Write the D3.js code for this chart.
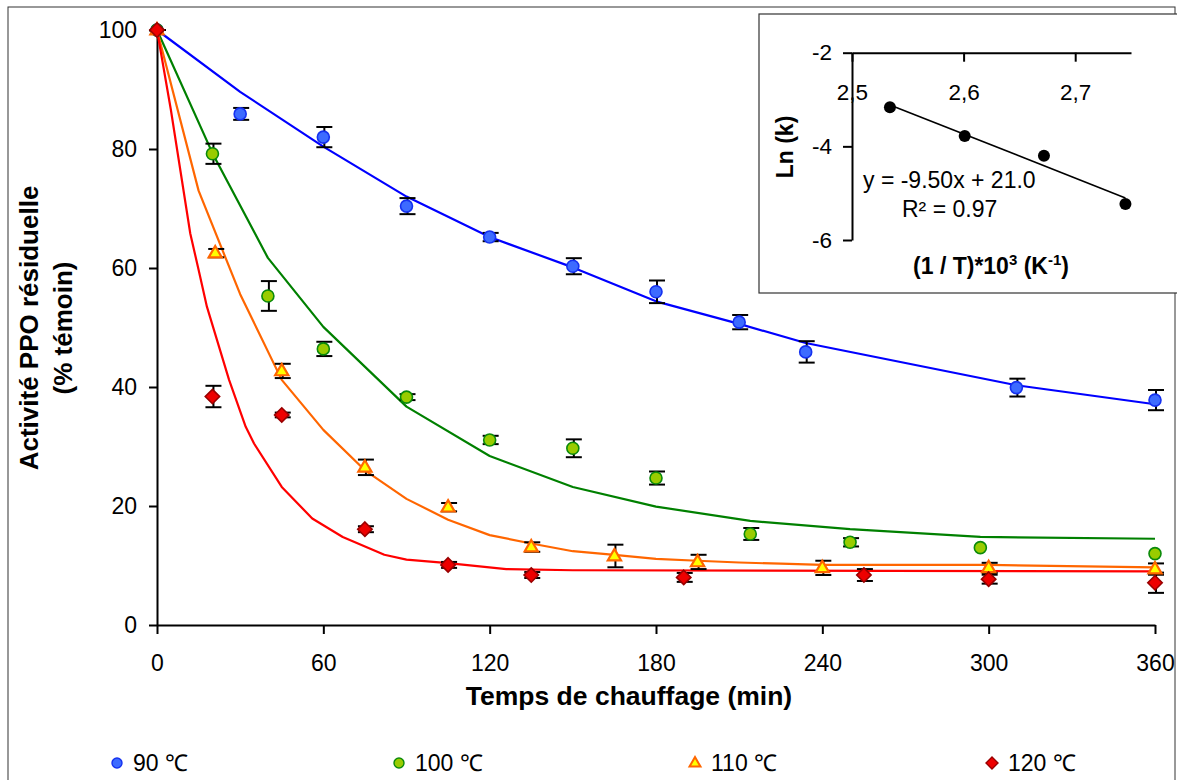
<!DOCTYPE html>
<html><head><meta charset="utf-8">
<script src="https://cdn.jsdelivr.net/npm/d3@7"></script>
<style>
html,body{margin:0;padding:0;background:#fff;}
text{font-family:"Liberation Sans",Arial,sans-serif;fill:#000;}
</style></head>
<body><svg id="c" width="1177" height="780"></svg>
<script>
// ---- main chart data ----
const xTicks = [0,60,120,180,240,300,360];
const yTicks = [0,20,40,60,80,100];
// 90 °C
const t90 = [0,30,60,90,120,150,180,210,234,310,360];
const y90 = [100,85.9,82.0,70.4,65.2,60.3,56.0,50.9,45.9,39.9,37.8];
const e90 = [0,1.0,1.7,1.35,0.7,1.35,1.9,1.2,1.8,1.5,1.7];
const ft90 = [0,30,60,90,120,150,180,210,234,310,360];
const fy90 = [100,89.6,80.4,72.0,65.2,60.1,54.4,50.6,47.4,40.3,37.1];
// 100 °C
const t100 = [0,20,40,60,90,120,150,180,214,250,297,360];
const y100 = [100,79.2,55.3,46.4,38.3,31.1,29.7,24.7,15.3,13.9,13.0,12.0];
const e100 = [0,1.7,2.5,1.2,0.5,0.7,1.5,1.1,1.0,0.7,null,null];
const ft100 = [0,20,40,60,90,120,150,180,214,250,297,360];
const fy100 = [100,79.3,61.7,50.1,36.7,28.4,23.2,19.9,17.5,16.1,14.8,14.5];
// 110 °C
const t110 = [0,21,45,75,105,135,165,195,240,300,360];
const y110 = [100,62.5,42.7,26.5,19.8,13.1,11.6,10.6,9.6,9.6,9.4];
const e110 = [0,0.7,1.2,1.3,0.7,0.8,1.9,1.2,1.2,0.85,0.95];
const ft110 = [0,15,30,45,60,75,90,105,120,135,150,165,180,195,210,225,240,300,360];
const fy110 = [100,73,55.6,41.2,32.8,26.0,21.2,17.7,15.1,13.7,12.4,11.8,11.1,10.8,10.5,10.3,10.1,10.1,9.7];
// 120 °C
const t120 = [0,20,45,75,105,135,190,255,300,360];
const y120 = [100,38.4,35.3,16.1,10.1,8.4,8.0,8.4,7.7,7.1];
const e120 = [0,1.8,0.4,0.5,0.5,0.5,0.75,1.0,0.75,1.7];
const ft120 = [0,5,12,15,18,26,32,35,45,56,67,82,90,105,126,150,360];
const fy120 = [100,86.6,65.8,59.7,53.5,41.2,33.3,30.5,23.2,17.9,14.8,11.8,11.0,10.4,9.4,9.2,9.0];

const seriesNames = ["90 \u2103","100 \u2103","110 \u2103","120 \u2103"];

// ---- inset data ----
const invT = [2.534,2.601,2.672,2.745];
const lnK = [-3.166,-3.779,-4.199,-5.231];
const insetXTicks = [2.5,2.6,2.7];
const insetYTicks = [-2,-4,-6];
const eqText = "y = -9.50x + 21.0";
const r2Text = "R\u00B2 = 0.97";

// ---- drawing ----
const svg = d3.select("#c");
svg.append("rect").attr("x",8).attr("y",7).attr("width",1167).attr("height",790)
  .attr("fill","#fff").attr("stroke","#333").attr("stroke-width",1);

const x = d3.scaleLinear().domain([0,360]).range([157,1155]);
const y = d3.scaleLinear().domain([0,100]).range([625,30]);

const series = [
  {t:t90,y:y90,e:e90,ft:ft90,fy:fy90,line:"#0000ff",fill:"#3d6bff",stroke:"#1531f0",shape:"circle"},
  {t:t100,y:y100,e:e100,ft:ft100,fy:fy100,line:"#008000",fill:"#99cc00",stroke:"#0a8a0a",shape:"circle"},
  {t:t110,y:y110,e:e110,ft:ft110,fy:fy110,line:"#ff6600",fill:"#ffff00",stroke:"#ff6600",shape:"triangle"},
  {t:t120,y:y120,e:e120,ft:ft120,fy:fy120,line:"#ff0000",fill:"#ee0000",stroke:"#990000",shape:"diamond"}
];

// axes
const xa = svg.append("g").attr("transform","translate(0,625)")
  .call(d3.axisBottom(x).tickValues(xTicks).tickSize(9).tickSizeOuter(0).tickPadding(21).tickFormat(d3.format("d")));
const ya = svg.append("g").attr("transform","translate(157,0)")
  .call(d3.axisLeft(y).tickValues(yTicks).tickSize(8).tickSizeOuter(0).tickPadding(12).tickFormat(d3.format("d")));
[xa,ya].forEach(a=>{
  a.selectAll("path,line").attr("stroke","#000").attr("stroke-width",2);
  a.selectAll("text").attr("font-size",23).attr("font-family","'Liberation Sans',Arial,sans-serif").attr("fill","#000");
});

// titles
svg.append("text").attr("x",629).attr("y",705).attr("text-anchor","middle")
  .attr("font-size",26.5).attr("font-weight","bold").text("Temps de chauffage (min)");
svg.append("text").attr("transform","translate(38,328) rotate(-90)").attr("text-anchor","middle")
  .attr("font-size",26).attr("font-weight","bold").text("Activité PPO résiduelle");
svg.append("text").attr("transform","translate(72,328) rotate(-90)").attr("text-anchor","middle")
  .attr("font-size",26).attr("font-weight","bold").text("(% témoin)");

// fitted lines
const lineGen = d3.line().x(d=>x(d[0])).y(d=>y(d[1]));
series.forEach(s=>{
  svg.append("path").datum(s.ft.map((t,i)=>[t,s.fy[i]]))
    .attr("d",lineGen).attr("fill","none").attr("stroke",s.line).attr("stroke-width",2.2)
    .attr("stroke-linejoin","round");
});

// marker path
function shapePath(shape,size){
  if(shape==="circle") return d3.symbol(d3.symbolCircle, Math.PI*size*size)();
  if(shape==="triangle"){ const h=size*1.9, w=size*2.2; return `M0,${-h*0.62}L${w/2},${h*0.38}L${-w/2},${h*0.38}Z`; }
  if(shape==="diamond"){ const a=size*1.2; return `M0,${-a}L${a},0L0,${a}L${-a},0Z`; }
}

// error bars
series.forEach(s=>{
  const g = svg.append("g");
  s.t.forEach((t,i)=>{
    const e = s.e[i];
    if(e===null || e===undefined) return;
    const cx = x(t)+1;
    const y1 = y(s.y[i]+e), y2 = y(s.y[i]-e);
    g.append("line").attr("x1",cx).attr("x2",cx).attr("y1",y1).attr("y2",y2).attr("stroke","#000").attr("stroke-width",2);
    [y1,y2].forEach(yy=>g.append("line").attr("x1",cx-8).attr("x2",cx+8).attr("y1",yy).attr("y2",yy).attr("stroke","#000").attr("stroke-width",2));
  });
});
// markers
series.forEach(s=>{
  svg.append("g").selectAll("path").data(s.t.map((t,i)=>[t,s.y[i]])).join("path")
    .attr("d",shapePath(s.shape,6))
    .attr("transform",d=>`translate(${x(d[0])},${y(d[1])})`)
    .attr("fill",s.fill).attr("stroke",s.stroke).attr("stroke-width",s.shape==="triangle"?2.2:1.6);
});

// legend
const legX = [117,399,695,992];
series.forEach((s,i)=>{
  svg.append("path").attr("d",shapePath(s.shape,5))
    .attr("transform",`translate(${legX[i]},763)`)
    .attr("fill",s.fill).attr("stroke",s.stroke).attr("stroke-width",s.shape==="triangle"?2:1.4);
  svg.append("text").attr("x",legX[i]+16).attr("y",771).attr("font-size",23).text(seriesNames[i]);
});

// ---- inset ----
svg.append("rect").attr("x",759).attr("y",14).attr("width",420).attr("height",279)
  .attr("fill","#fff").attr("stroke","#333").attr("stroke-width",1.2);
const ix = d3.scaleLinear().domain([2.5,2.75]).range([852,1131]);
const iy = d3.scaleLinear().domain([-6,-2]).range([240,52.7]);
const ixa = svg.append("g").attr("transform","translate(0,52.7)")
  .call(d3.axisBottom(ix).tickValues(insetXTicks).tickSize(9).tickSizeOuter(0).tickPadding(22).tickFormat(d=>d3.format(".1f")(d).replace(".",",")));
const iya = svg.append("g").attr("transform","translate(852,0)")
  .call(d3.axisLeft(iy).tickValues(insetYTicks).tickSize(9).tickSizeOuter(0).tickPadding(11).tickFormat(d3.format("d")));
[ixa,iya].forEach(a=>{
  a.selectAll("path,line").attr("stroke","#000").attr("stroke-width",2);
  a.selectAll("text").attr("font-size",22.5).attr("font-family","'Liberation Sans',Arial,sans-serif").attr("fill","#000");
});
iya.selectAll("text").text(d=>"-"+Math.abs(d));

// regression line computed from the points
const mx = d3.mean(invT), my = d3.mean(lnK);
const sxy = d3.sum(invT.map((v,i)=>(v-mx)*(lnK[i]-my)));
const sxx = d3.sum(invT.map(v=>(v-mx)*(v-mx)));
const slope = sxy/sxx, icpt = my - slope*mx;
const xr = d3.extent(invT);
svg.append("line").attr("x1",ix(xr[0])).attr("y1",iy(icpt+slope*xr[0]))
  .attr("x2",ix(xr[1])).attr("y2",iy(icpt+slope*xr[1])).attr("stroke","#000").attr("stroke-width",1.6);
svg.append("g").selectAll("circle").data(invT.map((v,i)=>[v,lnK[i]])).join("circle")
  .attr("cx",d=>ix(d[0])).attr("cy",d=>iy(d[1])).attr("r",6).attr("fill","#000");

svg.append("text").attr("x",863).attr("y",188).attr("font-size",23).text(eqText);
svg.append("text").attr("x",902).attr("y",217).attr("font-size",23).text(r2Text);
svg.append("text").attr("transform","translate(793,147) rotate(-90)").attr("text-anchor","middle")
  .attr("font-size",23).attr("font-weight","bold").text("Ln (k)");
const it = svg.append("text").attr("x",991).attr("y",274).attr("text-anchor","middle")
  .attr("font-size",23).attr("font-weight","bold");
it.append("tspan").text("(1 / T)*10");
it.append("tspan").attr("dy",-9).attr("font-size",15).text("3");
it.append("tspan").attr("dy",9).text(" (K");
it.append("tspan").attr("dy",-9).attr("font-size",15).text("-1");
it.append("tspan").attr("dy",9).text(")");
</script></body></html>
